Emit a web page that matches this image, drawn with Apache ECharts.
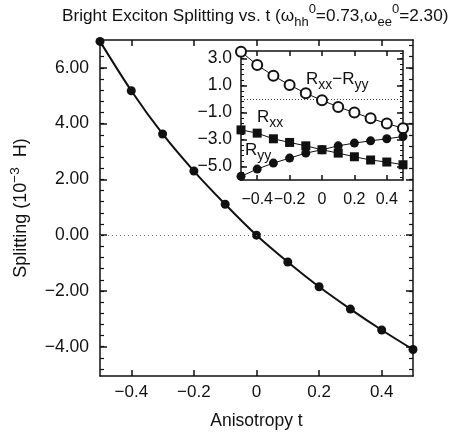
<!DOCTYPE html>
<html>
<head>
<meta charset="utf-8">
<script src="https://cdn.jsdelivr.net/npm/echarts@6/dist/echarts.min.js"></script>
<style>
  html, body { margin: 0; padding: 0; background: #fff; }
  #chart { width: 453px; height: 435px; }
</style>
</head>
<body>
<div id="chart"></div>
<script>
// anisotropy t (shared by main plot and inset)
const tValues = [-0.5, -0.4, -0.3, -0.2, -0.1, 0, 0.1, 0.2, 0.3, 0.4, 0.5];
// main plot: bright exciton splitting (10^-3 H)
const splitting = [6.95, 5.18, 3.63, 2.30, 1.11, 0.00, -0.96, -1.85, -2.65, -3.40, -4.10];
// inset
const rxxMinusRyy = [3.49, 2.51, 1.72, 1.03, 0.42, -0.10, -0.59, -1.01, -1.43, -1.82, -2.17];
const rxx = [-2.29, -2.53, -2.95, -3.22, -3.47, -3.76, -4.01, -4.28, -4.52, -4.67, -4.87];
const ryy = [-5.73, -5.19, -4.75, -4.38, -4.01, -3.76, -3.47, -3.27, -3.10, -2.95, -2.78];

// tick labels
const mainXTicks = [-0.4, -0.2, 0, 0.2, 0.4];
const mainYTicks = [-4, -2, 0, 2, 4, 6];
const insetXTicks = [-0.4, -0.2, 0, 0.2, 0.4];
const insetYTicks = [-5, -3, -1, 1, 3];

const FONT = '"Liberation Sans", Arial, Helvetica, sans-serif';
const INK = '#111';

const minus = (s) => String(s).replace('-', '\u2212');
const fmtT = (v) => (v === 0 ? '0' : minus(v.toFixed(1)));

// minor tick positions every 0.4 units
function minorSteps(base, kFrom, kTo) {
  const out = [];
  for (let k = kFrom; k <= kTo; k++) out.push(Math.round((base + k * 0.4) * 100) / 100);
  return out;
}
const mainMinor = minorSteps(0, -12, 17);
const insetMinor = minorSteps(-5, -2, 21);

const MAIN_Y = { min: -5.05, max: 7 };
const INSET_Y = { min: -6, max: 3.55 };

function frameAxis(gridIndex, position, range, ticks, tickLen, showLine, lineW) {
  return {
    type: 'value',
    gridIndex,
    position,
    min: range.min,
    max: range.max,
    axisLine: { show: showLine, onZero: false, lineStyle: { color: INK, width: lineW } },
    axisTick: {
      show: true, inside: true, length: tickLen, customValues: ticks,
      lineStyle: { color: INK, width: lineW }
    },
    axisLabel: { show: false },
    splitLine: { show: false }
  };
}

function withLabels(axis, values, formatter, margin, fontSize) {
  axis.axisLabel = {
    show: true, customValues: values, formatter, margin, hideOverlap: false,
    color: INK, fontSize, fontFamily: FONT
  };
  return axis;
}

function subLabel(text, left, top) {
  return {
    type: 'text', left, top, z: 100,
    style: {
      text,
      rich: {
        r: { fontSize: 17, lineHeight: 26, fill: INK, color: INK, fontFamily: FONT },
        s: { fontSize: 14, lineHeight: 13, verticalAlign: 'bottom', fill: INK, color: INK, fontFamily: FONT }
      }
    }
  };
}

const chart = echarts.init(document.getElementById('chart'));

const xMain = withLabels(frameAxis(0, 'bottom', { min: -0.5, max: 0.5 }, mainXTicks, 6, true, 1.5),
  mainXTicks, fmtT, 8, 17);
xMain.name = 'Anisotropy t';
xMain.nameLocation = 'middle';
xMain.nameGap = 36;
xMain.nameTextStyle = { color: INK, fontSize: 17.5, fontFamily: FONT };

const yMain = withLabels(frameAxis(0, 'left', MAIN_Y, mainYTicks, 7, true, 1.5),
  mainYTicks, (v) => minus(v.toFixed(2)), 11, 17.5);
yMain.name = '{a|Splitting (10}{s|\u22123}{a|  H)}';
yMain.nameLocation = 'middle';
yMain.nameGap = 66;
yMain.nameTextStyle = {
  color: INK, fontFamily: FONT,
  rich: {
    a: { fontSize: 18, lineHeight: 26, color: INK, fontFamily: FONT },
    s: { fontSize: 13.5, lineHeight: 13, verticalAlign: 'top', color: INK, fontFamily: FONT }
  }
};

const xInset = withLabels(frameAxis(1, 'bottom', { min: -0.5, max: 0.5 }, insetXTicks, 5, true, 1.5),
  insetXTicks, fmtT, 12, 16);
const yInset = withLabels(frameAxis(1, 'left', INSET_Y, insetYTicks, 6, true, 1.5),
  insetYTicks, (v) => minus(v.toFixed(1)), 9, 17.5);

const option = {
  animation: false,
  textStyle: { fontFamily: FONT },
  title: {
    left: 57,
    top: -2,
    text: '{a|Bright Exciton Splitting vs. t (\u03c9}{b|hh}{c|0}{a|=0.73,\u03c9}{b|ee}{c|0}{a|=2.30)}',
    textStyle: {
      fontWeight: 'normal',
      rich: {
        a: { fontSize: 17.2, lineHeight: 26, fontWeight: 'normal', color: INK, fontFamily: FONT },
        b: { fontSize: 13, lineHeight: 13, verticalAlign: 'bottom', fontWeight: 'normal', color: INK, fontFamily: FONT },
        c: { fontSize: 13, lineHeight: 12, verticalAlign: 'top', fontWeight: 'normal', color: INK, fontFamily: FONT }
      }
    }
  },
  grid: [
    { left: 100, top: 40, width: 313, height: 337 },
    { left: 241, top: 51, width: 162, height: 129, show: true, backgroundColor: '#fff', borderWidth: 0, z: 5 }
  ],
  xAxis: [
    xMain,
    frameAxis(0, 'top', { min: -0.5, max: 0.5 }, mainXTicks, 6, true, 1.5),
    Object.assign(xInset, { z: 6 }),
    Object.assign(frameAxis(1, 'top', { min: -0.5, max: 0.5 }, insetXTicks, 5, true, 1.5), { z: 6 })
  ],
  yAxis: [
    yMain,
    frameAxis(0, 'left', MAIN_Y, mainMinor, 4, false, 1.2),
    frameAxis(0, 'right', MAIN_Y, mainYTicks, 7, true, 1.5),
    frameAxis(0, 'right', MAIN_Y, mainMinor, 4, false, 1.2),
    Object.assign(yInset, { z: 6 }),
    Object.assign(frameAxis(1, 'left', INSET_Y, insetMinor, 3, false, 1), { z: 6 }),
    Object.assign(frameAxis(1, 'right', INSET_Y, insetYTicks, 6, true, 1.5), { z: 6 }),
    Object.assign(frameAxis(1, 'right', INSET_Y, insetMinor, 3, false, 1), { z: 6 })
  ],
  series: [
    {
      name: 'Splitting',
      type: 'line',
      xAxisIndex: 0,
      yAxisIndex: 0,
      data: tValues.map((t, i) => [t, splitting[i]]),
      smooth: 0.3,
      clip: false,
      symbol: 'circle',
      symbolSize: 9,
      lineStyle: { color: INK, width: 2 },
      itemStyle: { color: INK },
      markLine: {
        silent: true,
        symbol: 'none',
        label: { show: false },
        lineStyle: { color: '#666', type: [1, 3], width: 1 },
        data: [{ yAxis: 0 }]
      }
    },
    {
      name: 'Rxx-Ryy',
      type: 'line',
      xAxisIndex: 2,
      yAxisIndex: 4,
      z: 7,
      data: tValues.map((t, i) => [t, rxxMinusRyy[i]]),
      clip: false,
      symbol: 'emptyCircle',
      symbolSize: 10,
      lineStyle: { color: INK, width: 1 },
      itemStyle: { color: INK, borderColor: INK, borderWidth: 1 },
      markLine: {
        silent: true,
        symbol: 'none',
        label: { show: false },
        lineStyle: { color: '#444', type: [1, 2], width: 1 },
        data: [{ yAxis: 0 }]
      }
    },
    {
      name: 'Rxx',
      type: 'line',
      xAxisIndex: 2,
      yAxisIndex: 4,
      z: 7,
      data: tValues.map((t, i) => [t, rxx[i]]),
      clip: false,
      symbol: 'rect',
      symbolSize: 9,
      lineStyle: { color: INK, width: 1 },
      itemStyle: { color: INK }
    },
    {
      name: 'Ryy',
      type: 'line',
      xAxisIndex: 2,
      yAxisIndex: 4,
      z: 7,
      data: tValues.map((t, i) => [t, ryy[i]]),
      clip: false,
      symbol: 'circle',
      symbolSize: 9,
      lineStyle: { color: INK, width: 1 },
      itemStyle: { color: INK }
    }
  ],
  graphic: [
    subLabel('{r|R}{s|xx}{r|\u2212R}{s|yy}', 306, 71),
    subLabel('{r|R}{s|xx}', 257, 109),
    subLabel('{r|R}{s|yy}', 245, 142)
  ]
};

chart.setOption(option);
</script>
</body>
</html>
